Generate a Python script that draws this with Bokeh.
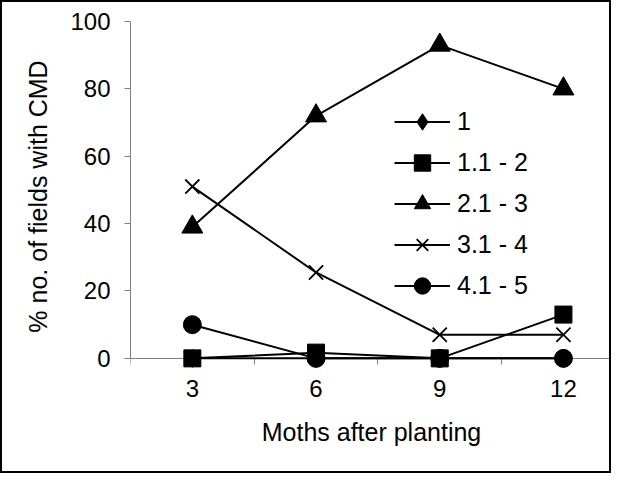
from bokeh.plotting import figure
from bokeh.models import FixedTicker, Range1d, Legend, LegendItem, LinearAxis
from bokeh.embed import file_html
from bokeh.resources import INLINE

# ---- data ----
months = [3, 6, 9, 12]
series_1 = [0, 0, 0, 0]
series_2 = [0, 1.7, 0, 13]
series_3 = [39, 72, 93, 80]
series_4 = [51, 25.5, 7, 7]
series_5 = [10, 0, 0, 0]
series_labels = ["1", "1.1 - 2", "2.1 - 3", "3.1 - 4", "4.1 - 5"]
y_ticks = [0, 20, 40, 60, 80, 100]
x_tick_labels = ["3", "6", "9", "12"]
x_band_edges = [1.5, 4.5, 7.5, 10.5, 13.5]
x_title = "Moths after planting"
y_title = "% no. of fields with CMD"

FONT = "Liberation Sans"
W, H = 611, 473

p = figure(width=W, height=H, output_backend="svg", toolbar_location=None,
           x_range=Range1d(1.5, 13.19), y_range=Range1d(-3.9, 100),
           min_border_left=128, min_border_top=19, min_border_bottom=104,
           min_border_right=1,
           styles={"border": "2px solid black", "box-sizing": "border-box"})
p.outline_line_color = None
p.xgrid.visible = False
p.ygrid.visible = False
p.background_fill_color = "white"
p.border_fill_color = "white"

# x axis (labels and title, below the frame)
xa = p.xaxis[0]
xa.ticker = FixedTicker(ticks=months)
xa.major_label_overrides = {m: t for m, t in zip(months, x_tick_labels)}
xa.axis_line_color = None
xa.major_tick_line_color = None
xa.minor_tick_line_color = None
xa.major_tick_out = 0
xa.major_tick_in = 0
xa.minor_tick_out = 0
xa.minor_tick_in = 0
xa.major_label_text_font = FONT
xa.major_label_text_font_size = "24px"
xa.major_label_text_color = "black"
xa.major_label_standoff = 8
xa.axis_label = x_title
xa.axis_label_text_font = FONT
xa.axis_label_text_font_size = "25px"
xa.axis_label_text_font_style = "normal"
xa.axis_label_text_color = "black"
xa.axis_label_standoff = 18

# x axis line and band ticks at y = 0
zero_axis = LinearAxis(fixed_location=0,
                       ticker=FixedTicker(ticks=months, minor_ticks=x_band_edges),
                       major_tick_out=0, major_tick_in=0,
                       minor_tick_out=6, minor_tick_in=0,
                       minor_tick_line_color="#808080",
                       axis_line_color="#808080", axis_line_width=1,
                       major_label_text_color=None,
                       major_label_text_font_size="8px")
p.add_layout(zero_axis, "below")

# y axis
ya = p.yaxis[0]
ya.ticker = FixedTicker(ticks=y_ticks)
ya.bounds = (0, 100)
ya.minor_tick_line_color = None
ya.major_tick_out = 6
ya.major_tick_in = 0
ya.major_tick_line_color = "#808080"
ya.axis_line_color = "#808080"
ya.axis_line_width = 1
ya.major_label_text_font = FONT
ya.major_label_text_font_size = "24px"
ya.major_label_text_color = "black"
ya.major_label_standoff = 14
ya.axis_label = y_title
ya.axis_label_text_font = FONT
ya.axis_label_text_font_size = "25px"
ya.axis_label_text_font_style = "normal"
ya.axis_label_text_color = "black"
ya.axis_label_standoff = 15

all_series = [series_1, series_2, series_3, series_4, series_5]
markers = ["diamond", "square", "triangle", "x", "circle"]
sizes = [18, 17, 21, 20, 18]

items = []
for vals, lab, mk, sz in zip(all_series, series_labels, markers, sizes):
    lr = p.line(months, vals, line_color="black", line_width=2, level="overlay")
    if mk == "x":
        sr = p.scatter(months, vals, marker=mk, size=sz, line_color="black",
                       line_width=1.8, level="overlay")
    else:
        sr = p.scatter(months, vals, marker=mk, size=sz, fill_color="black",
                       line_color="black", line_width=1, level="overlay")
    items.append(LegendItem(label=lab, renderers=[lr, sr]))

legend = Legend(items=items, location=(264, 65), orientation="vertical",
                glyph_width=56, glyph_height=41, label_height=41,
                label_standoff=7, spacing=0, padding=0, margin=0,
                border_line_color=None, background_fill_alpha=0,
                label_text_font=FONT, label_text_font_size="25px",
                label_text_color="black")
p.add_layout(legend)

open("out.html", "w").write(file_html(p, INLINE))
